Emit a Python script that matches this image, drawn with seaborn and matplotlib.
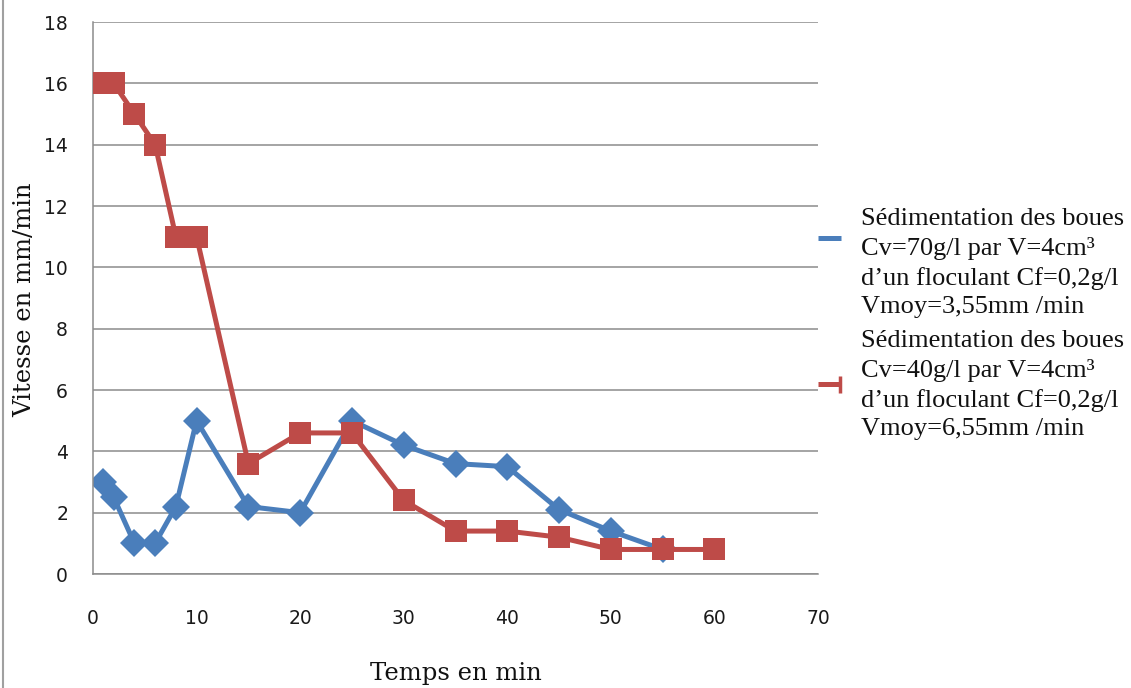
import matplotlib
matplotlib.use("Agg")
import matplotlib.pyplot as plt
from matplotlib.lines import Line2D
import seaborn as sns
import pandas as pd

# Settling velocity measurements (time in min, velocity in mm/min)
temps_70 = [1, 2, 4, 6, 8, 10, 15, 20, 25, 30, 35, 40, 45, 50, 55]
vitesse_70 = [3, 2.5, 1, 1, 2.2, 5, 2.2, 2, 5, 4.2, 3.6, 3.5, 2.1, 1.4, 0.8]
temps_40 = [1, 2, 4, 6, 8, 10, 15, 20, 25, 30, 35, 40, 45, 50, 55, 60]
vitesse_40 = [16, 16, 15, 14, 11, 11, 3.6, 4.6, 4.6, 2.4, 1.4, 1.4, 1.2, 0.8, 0.8, 0.8]

label_70 = ("Sédimentation des boues\nCv=70g/l par V=4cm³\n"
            "d’un floculant Cf=0,2g/l\nVmoy=3,55mm /min")
label_40 = ("Sédimentation des boues\nCv=40g/l par V=4cm³\n"
            "d’un floculant Cf=0,2g/l\nVmoy=6,55mm /min")

x_ticks = [0, 10, 20, 30, 40, 50, 60, 70]
y_ticks = [0, 2, 4, 6, 8, 10, 12, 14, 16, 18]

blue = "#4A7EBB"
red = "#BE4B48"
grid_col = "#8C8C8C"

W, H = 1131, 688

df = pd.concat([
    pd.DataFrame({"t": temps_70, "v": vitesse_70, "serie": "70"}),
    pd.DataFrame({"t": temps_40, "v": vitesse_40, "serie": "40"}),
], ignore_index=True)

sns.set_theme(style="white")
plt.rcParams["font.family"] = ["DejaVu Sans"]

fig = plt.figure(figsize=(W / 100, H / 100), dpi=100)
ax = fig.add_axes([93 / W, 1 - 574 / H, (818 - 93) / W, (574 - 22) / H])

sns.lineplot(data=df, x="t", y="v", hue="serie", style="serie",
             palette={"70": blue, "40": red},
             markers={"70": "D", "40": "s"}, dashes=False,
             markersize=14, linewidth=3.6, markeredgewidth=0,
             legend=False, ax=ax, sort=False)
lines = ax.get_lines()
lines[0].set_markersize(14)
lines[0].set_zorder(2)
lines[1].set_markersize(15.5)
lines[1].set_zorder(3)

ax.set_xlim(0, 70)
ax.set_ylim(0, 18)
ax.set_xticks(x_ticks)
ax.set_yticks(y_ticks)
ax.tick_params(axis="x", length=0, pad=25, labelsize=13.5, colors="#1a1a1a")
ax.tick_params(axis="y", length=0, pad=18, labelsize=13.5, colors="#1a1a1a")
ax.yaxis.grid(True, color=grid_col, linewidth=1.1)
ax.xaxis.grid(False)
for side in ["top", "right"]:
    ax.spines[side].set_visible(False)
for side in ["left", "bottom"]:
    ax.spines[side].set_color(grid_col)
    ax.spines[side].set_linewidth(1.1)

ax.set_xlabel("Temps en min", family="DejaVu Serif", fontsize=17.5,
              color="#111111")
ax.set_ylabel("Vitesse en mm/min", family="DejaVu Serif", fontsize=17.5,
              color="#111111")
ax.xaxis.set_label_coords(0.5, (574 - 662) / 552)
ax.yaxis.set_label_coords((36 - 93) / 725, (574 - 300) / 552)

# legend placed to the right of the plot area
legend_font = {"family": "Liberation Serif", "size": 19}
for label, y_base in [(label_70, 225), (label_40, 347)]:
    fig.text(861 / W, 1 - (y_base - 17) / H, label, ha="left", va="top",
             linespacing=1.38, color="#111111", **legend_font)

fig.add_artist(Line2D([818 / W, 841 / W], [1 - 238 / H, 1 - 238 / H],
                      color=blue, linewidth=3.6, solid_capstyle="butt"))
fig.add_artist(Line2D([818 / W, 841 / W], [1 - 384 / H, 1 - 384 / H],
                      color=red, linewidth=3.6, solid_capstyle="butt"))
fig.add_artist(Line2D([839.5 / W, 839.5 / W], [1 - 376 / H, 1 - 393 / H],
                      color=red, linewidth=2.5, solid_capstyle="butt"))

# outer chart border on the left edge
fig.add_artist(Line2D([3 / W, 3 / W], [0, 1], color="#A0A0A0", linewidth=1.5))

fig.savefig("out.png", dpi=100)
